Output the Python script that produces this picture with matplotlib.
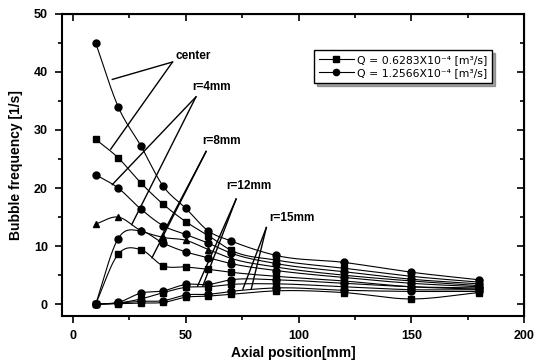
import numpy as np
import matplotlib.pyplot as plt

plt.rcParams['font.family'] = ['Liberation Sans', 'DejaVu Sans']

# axial positions (mm)
x = [10, 20, 30, 40, 50, 60, 70, 90, 120, 150, 180]

# Q = 0.6283e-4 m3/s (squares) and Q = 1.2566e-4 m3/s (circles)
center_q2 = [45.0, 34.0, 27.3, 20.3, 16.5, 12.6, 10.9, 8.4, 7.2, 5.5, 4.2]
center_q1 = [28.4, 25.2, 20.9, 17.2, 14.2, 11.8, 9.3, 7.6, 6.2, 4.8, 3.8]
r4_q2 = [22.3, 20.0, 16.4, 13.5, 12.0, 10.5, 8.8, 7.0, 5.6, 4.3, 3.5]
r4_q1 = [13.8, 15.0, 12.7, 11.5, 11.0, 9.4, 7.9, 6.4, 5.0, 4.0, 3.2]
r8_q2 = [0.0, 11.3, 12.6, 10.5, 9.0, 8.0, 7.0, 5.8, 4.6, 3.6, 3.0]
r8_q1 = [0.0, 8.6, 9.4, 6.6, 6.4, 6.0, 5.5, 4.8, 4.0, 3.0, 2.6]
r12_q2 = [0.0, 0.3, 1.9, 2.3, 3.4, 3.4, 4.2, 4.2, 3.6, 3.0, 2.8]
r12_q1 = [0.0, 0.2, 0.9, 2.0, 2.9, 3.0, 3.4, 3.5, 3.0, 2.5, 2.5]
r15_q2 = [0.0, 0.2, 0.5, 0.6, 1.6, 1.7, 2.2, 2.8, 2.4, 2.2, 2.2]
r15_q1 = [0.0, 0.1, 0.2, 0.3, 1.2, 1.4, 1.7, 2.3, 2.0, 0.9, 2.0]

series = [
    (center_q2, "o"), (center_q1, "s"),
    (r4_q2, "o"), (r4_q1, "^"),
    (r8_q2, "o"), (r8_q1, "s"),
    (r12_q2, "o"), (r12_q1, "s"),
    (r15_q2, "o"), (r15_q1, "s"),
]

legend_labels = ["Q = 0.6283X10\u207b\u2074 [m\u00b3/s]",
                 "Q = 1.2566X10\u207b\u2074 [m\u00b3/s]"]

# label text position (left, baseline), pointer vertex and the two pointer ends
labels = {
    "center": ((45.5, 42.3), (44.1, 41.7), [(17.4, 38.7), (16.7, 26.7)]),
    "r=4mm": ((53.0, 36.9), (54.5, 35.7), [(17.4, 20.6), (26.0, 13.7)]),
    "r=8mm": ((57.5, 27.5), (59.0, 26.3), [(35.0, 8.0), (38.0, 10.8)]),
    "r=12mm": ((67.9, 19.8), (72.3, 18.1), [(55.2, 3.1), (57.5, 3.1)]),
    "r=15mm": ((87.2, 14.3), (85.7, 13.2), [(75.3, 2.6), (79.0, 2.6)]),
}


def smooth(xs, ys, n=20):
    # cubic hermite path through the points, like Origin's spline connect
    xs = np.asarray(xs, float)
    ys = np.asarray(ys, float)
    m = np.gradient(ys, xs)
    px, py = [], []
    for i in range(len(xs) - 1):
        h = xs[i + 1] - xs[i]
        t = np.linspace(0, 1, n, endpoint=False)
        h00 = 2 * t**3 - 3 * t**2 + 1
        h10 = t**3 - 2 * t**2 + t
        h01 = -2 * t**3 + 3 * t**2
        h11 = t**3 - t**2
        px.extend(xs[i] + t * h)
        py.extend(h00 * ys[i] + h10 * h * m[i] + h01 * ys[i + 1] + h11 * h * m[i + 1])
    px.append(xs[-1])
    py.append(ys[-1])
    return px, py


fig = plt.figure(figsize=(5.42, 3.63), dpi=100)
ax = fig.add_axes([0.114, 0.13, 0.853, 0.832])

for ys, mk in series:
    sx, sy = smooth(x, ys)
    ax.plot(sx, sy, color="black", lw=0.8)
    ax.plot(x, ys, mk, color="black", ms=5, ls="none")

for txt, (tpos, vert, ends) in labels.items():
    ax.text(tpos[0], tpos[1], txt, fontsize=8.5, fontweight="bold",
            ha="left", va="baseline")
    for e in ends:
        ax.plot([vert[0], e[0]], [vert[1], e[1]], color="black", lw=1.0)

# legend entries
h1, = ax.plot([], [], "-s", color="black", ms=4.5, lw=0.8)
h2, = ax.plot([], [], "-o", color="black", ms=4.5, lw=0.8)
leg = ax.legend([h1, h2], legend_labels,
                loc="upper right", bbox_to_anchor=(0.931, 0.881), borderaxespad=0,
                prop={"family": "DejaVu Sans", "size": 7.8},
                frameon=True, fancybox=False, shadow=True,
                handlelength=3.2, borderpad=0.45, labelspacing=0.3,
                handletextpad=0.3)
leg.get_frame().set_edgecolor("black")
leg.get_frame().set_linewidth(1.0)

ax.set_xlim(-5, 200)
ax.set_ylim(-2, 50)
ax.set_xticks([0, 50, 100, 150, 200])
ax.set_xticks([25, 75, 125, 175], minor=True)
ax.set_yticks([0, 10, 20, 30, 40, 50])
ax.set_yticks([5, 15, 25, 35, 45], minor=True)
ax.tick_params(which="both", direction="out", width=1.2, labelsize=9, pad=5)
ax.tick_params(which="major", length=5)
ax.tick_params(which="minor", length=3)
for lab in ax.get_xticklabels() + ax.get_yticklabels():
    lab.set_fontweight("bold")
for s in ax.spines.values():
    s.set_linewidth(1.5)

# top and right axes with inward ticks, no labels
top = ax.secondary_xaxis("top")
top.set_xticks([0, 50, 100, 150, 200], labels=[])
top.set_xticks([25, 75, 125, 175], minor=True)
top.tick_params(which="both", direction="in", width=1.2)
top.tick_params(which="major", length=5)
top.tick_params(which="minor", length=3)
right = ax.secondary_yaxis("right")
right.set_yticks([0, 10, 20, 30, 40, 50], labels=[])
right.set_yticks([5, 15, 25, 35, 45], minor=True)
right.tick_params(which="both", direction="in", width=1.2)
right.tick_params(which="major", length=5)
right.tick_params(which="minor", length=3)

ax.set_xlabel("Axial position[mm]", fontsize=10, fontweight="bold", labelpad=3)
ax.set_ylabel("Bubble frequency [1/s]", fontsize=10, fontweight="bold", labelpad=8)

fig.savefig("out.png", dpi=100)
